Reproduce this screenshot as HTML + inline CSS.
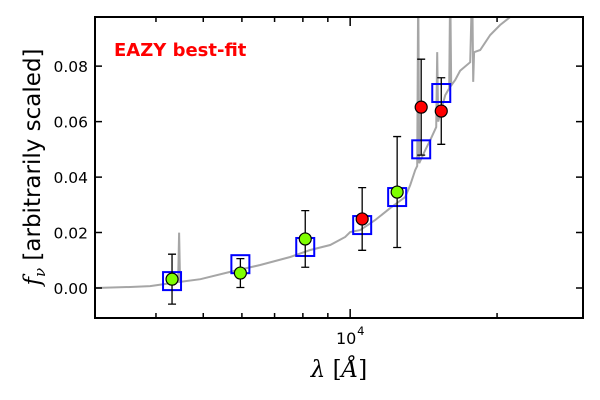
<!DOCTYPE html>
<html><head><meta charset="utf-8">
<style>
body{margin:0;background:#fff;}
svg{display:block;font-family:"DejaVu Sans","Liberation Sans",sans-serif;}
</style></head>
<body>
<svg id="chart" width="600" height="400" xmlns="http://www.w3.org/2000/svg">
<defs><clipPath id="pc"><rect x="95" y="17" width="488" height="301"/></clipPath></defs>
<rect x="0" y="0" width="600" height="400" fill="#fff"/>
<g id="spec" clip-path="url(#pc)"></g>
<g id="marks"></g>
<rect x="95" y="17" width="488" height="301" fill="none" stroke="#000" stroke-width="2"/>
<g id="axes"></g>
<text x="114" y="56" fill="#ff0000" font-weight="bold" font-size="18">EAZY best-fit</text>
<text transform="translate(40,167) rotate(-90)" text-anchor="middle" font-size="23"><tspan font-family="DejaVu Serif,serif" font-style="italic">f</tspan><tspan font-size="15" dy="5" font-family="DejaVu Serif,serif" font-style="italic">ν</tspan><tspan dy="-5"> [arbitrarily scaled]</tspan></text>
<text x="339" y="377" text-anchor="middle" font-size="23" font-family="DejaVu Serif,serif"><tspan font-style="italic">λ</tspan> [<tspan font-style="italic">Å</tspan>]</text>
</svg>
<script>
const specLam=[3000,3540,3890,4315,4441,4462,4483,4932,5675,6540,7535,8280,9100,9767,10000,10483,11250,12078,12966,13274,13590,13719,13783,13848,14247,14588,15004,15075,15146,15656,15954,16029,16105,16412,16802,17620,17783,17866,17950,18470,19364,20293,21280,23384];
const specFlux=[0,0.00036,0.0007,0.0018,0.0022,0.020,0.0022,0.0032,0.0058,0.0083,0.0112,0.0137,0.0155,0.0184,0.0202,0.0209,0.0245,0.0288,0.0328,0.0371,0.0425,0.044,0.11,0.045,0.0497,0.0533,0.058,0.085,0.06,0.0695,0.072,0.11,0.073,0.075,0.0783,0.0814,0.11,0.0743,0.085,0.0858,0.0912,0.0948,0.0977,0.103];
const obsLam=[4315,5957,8090,10583,12482,13981,15370];
const obsFlux=[0.0032,0.0054,0.0177,0.0249,0.0346,0.0652,0.0638];
const obsErr=[0.009,0.0052,0.0102,0.0113,0.020,0.0173,0.012];
const obsColor=["#7fff00","#7fff00","#7fff00","#ff0000","#7fff00","#ff0000","#ff0000"];
const modelFlux=[0.0025,0.0086,0.0148,0.0227,0.0328,0.050,0.0703];
const yTicks=[0,0.02,0.04,0.06,0.08];
const yTickLabels=["0.00","0.02","0.04","0.06","0.08"];
const xMinor=[4000,5000,6000,7000,8000,9000,20000];

const X0=95,X1=583,Y0=318,Y1=17,LMIN=3000,LMAX=30000,FMIN=-0.0108,FMAX=0.0977;
const sx=l=>X0+(Math.log10(l)-Math.log10(LMIN))/(Math.log10(LMAX)-Math.log10(LMIN))*(X1-X0);
const sy=f=>Y0-(f-FMIN)/(FMAX-FMIN)*(Y0-Y1);
const NS="http://www.w3.org/2000/svg";
function mk(t,a,p){const e=document.createElementNS(NS,t);for(const k in a)e.setAttribute(k,a[k]);p.appendChild(e);return e;}
const spec=document.getElementById('spec'),marks=document.getElementById('marks'),axes=document.getElementById('axes');
const pl=mk('polyline',{points:specLam.map((l,i)=>sx(l).toFixed(1)+','+sy(specFlux[i]).toFixed(1)).join(' '),fill:'none',stroke:'#a6a6a6','stroke-width':2},spec);


obsLam.forEach((l,i)=>{
  const x=sx(l);
  const g=mk('g',{},marks);
  
  
  const s=mk('rect',{x:x-9,y:sy(modelFlux[i])-9,width:18,height:18,fill:'none',stroke:'#0000ff','stroke-width':2},g);
  
  
  const yt=sy(obsFlux[i]+obsErr[i]),yb=sy(obsFlux[i]-obsErr[i]);
  const eb=mk('path',{d:`M${x},${yt}V${yb}M${x-4},${yt}H${x+4}M${x-4},${yb}H${x+4}`,stroke:'#000','stroke-width':1.3,fill:'none'},g);
  
  
  const c=mk('circle',{cx:x,cy:sy(obsFlux[i]),r:6,fill:obsColor[i],stroke:'#000','stroke-width':1.2},g);
  
  
});
yTicks.forEach((v,i)=>{
  const y=sy(v);
  mk('path',{d:`M${X0},${y}h7M${X1},${y}h-7`,stroke:'#000','stroke-width':1.5},axes);
  const t=mk('text',{x:X0-7,y:y+6,'text-anchor':'end','font-size':15.5},axes);
  t.textContent=yTickLabels[i];
  
  
});
xMinor.forEach(l=>{const x=sx(l);mk('path',{d:`M${x},${Y0}v-5M${x},${Y1}v5`,stroke:'#000','stroke-width':1.5},axes);});
const xm=sx(10000);
mk('path',{d:`M${xm},${Y0}v-9M${xm},${Y1}v9`,stroke:'#000','stroke-width':1.5},axes);
const xl=mk('text',{x:xm-4,y:344,'text-anchor':'middle','font-size':16},axes);
xl.textContent='10';


const xe=mk('text',{x:xm+7,y:335,'font-size':11.5},axes);
xe.textContent='4';


</script>
</body></html>
